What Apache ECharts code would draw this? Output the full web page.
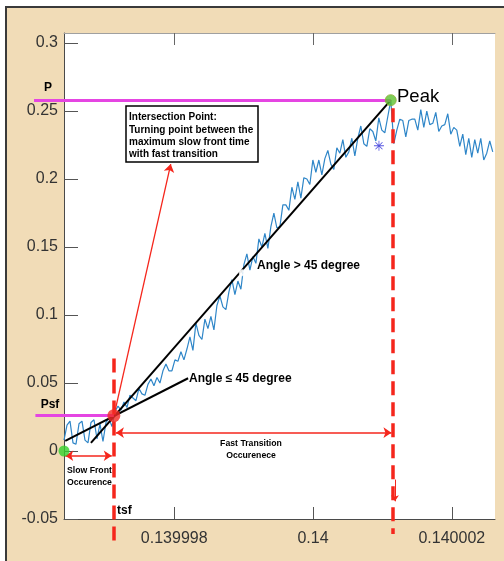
<!DOCTYPE html>
<html>
<head>
<meta charset="utf-8">
<script src="https://cdn.jsdelivr.net/npm/echarts@6/dist/echarts.min.js"></script>
<style>
  html, body { margin: 0; padding: 0; background: #fff; }
  #chart { width: 504px; height: 561px; }
</style>
</head>
<body>
<div id="chart"></div>
<script>
// Time axis is expressed in microseconds relative to t = 0.14 s.
const xTickValues = [-2, 0, 2];
const xTickLabels = ['0.139998', '0.14', '0.140002'];
const yTickValues = [-0.05, 0, 0.05, 0.1, 0.15, 0.2, 0.25, 0.3];
const yTickLabels = ['-0.05', '0', '0.05', '0.1', '0.15', '0.2', '0.25', '0.3'];

// Recorded front: sampled signal (start time and sample period in µs)
const sampleStartUs = -3.588;
const samplePeriodUs = 0.0432;
const signal = [
  // slow front
  0.008, 0.019, 0.022, 0.006, 0.005, 0.020, 0.022, 0.008, 0.006, 0.021,
  0.023, 0.009, 0.020, 0.007, 0.021, 0.024, 0.018,
  // fast transition
  0.029, 0.033, 0.030, 0.036, 0.032, 0.041, 0.039, 0.037, 0.046, 0.042,
  0.041, 0.049, 0.053, 0.048, 0.054, 0.050, 0.059, 0.064, 0.059, 0.059,
  0.067, 0.066, 0.073, 0.067, 0.075, 0.084, 0.074, 0.094, 0.085, 0.082,
  0.097, 0.090, 0.099, 0.089, 0.107, 0.114, 0.106, 0.104, 0.117, 0.126,
  0.115, 0.125, 0.119, 0.137, 0.145, 0.133, 0.143, 0.138, 0.156, 0.150,
  0.160, 0.149, 0.165, 0.175, 0.164, 0.165, 0.181, 0.181, 0.177, 0.194,
  0.185, 0.198, 0.186, 0.201, 0.200, 0.196, 0.214, 0.205, 0.214, 0.203,
  0.215, 0.221, 0.211, 0.207, 0.223, 0.219, 0.229, 0.216, 0.220, 0.230,
  0.217, 0.230, 0.239, 0.226, 0.224, 0.237, 0.235, 0.228, 0.245, 0.236,
  0.234, 0.246,
  // peak and tail
  0.258,
  0.226, 0.236, 0.244, 0.243, 0.231, 0.243, 0.244, 0.244, 0.236, 0.251,
  0.238, 0.250, 0.240, 0.241, 0.249, 0.235, 0.239, 0.240, 0.248, 0.233,
  0.238, 0.236, 0.224, 0.233, 0.218, 0.230, 0.216, 0.229, 0.219, 0.230,
  0.214, 0.219, 0.228, 0.220
];

// Characteristic points [time µs, value]
const startPoint = [-3.588, 0];
const tsf = -2.87;
const Psf = 0.026;
const tPeak = 1.12;
const P = 0.258;
const peakGuideTime = 1.15;
const fittedMarker = [0.95, 0.2245];
const midMarker = [-1.02, 0.131];

// Fitted slopes
const steepLine = [[-3.2, 0.006], [tPeak, P]];
const shallowLine = [[-3.57, 0.0075], [-1.80, 0.0535]];

// Level guides (extend left past the axis)
const pLevel = [[-4.02, P], [tPeak, P]];
const psfLevel = [[-4.0, Psf], [tsf, Psf]];

// Vertical time guides (extend below the axis)
const tsfGuide = [[tsf, 0.068], [tsf, -0.067]];
const peakGuide = [[peakGuideTime, 0.252], [peakGuideTime, -0.061]];

// Interval arrows
const slowFrontSpan = [[-3.57, -0.0035], [-2.90, -0.0035]];
const fastTransitionSpan = [[-2.84, 0.0135], [1.13, 0.0135]];
const calloutArrow = [[-2.85, 0.030], [-2.05, 0.211]];
const peakDrop = [[1.18, -0.021], [1.18, -0.037]];

const wave = signal.map((v, i) => [sampleStartUs + i * samplePeriodUs, v]);

const chart = echarts.init(document.getElementById('chart'), null, { renderer: 'canvas' });

const FONT = '"Liberation Sans", Arial, Helvetica, sans-serif';
const RED = '#f5261c';
const MAGENTA = '#e545e2';

// straight segment drawn in data coordinates, allowed to run outside the plot box
function segment(coords, color, width, type, z, symbols, size) {
  return {
    type: 'lines', coordinateSystem: 'cartesian2d', xAxisIndex: 0, yAxisIndex: 0,
    clip: false, silent: true, z,
    symbol: symbols || ['none', 'none'], symbolSize: size || 8,
    lineStyle: { color, width, type, opacity: 1, curveness: 0, cap: 'butt' },
    data: [{ coords }]
  };
}

const text = (t, x, y, size, weight, align) => ({
  type: 'text', z: 50,
  style: {
    text: t, x, y, fill: '#000',
    font: `${weight} ${size}px ${FONT}`,
    align, verticalAlign: 'middle'
  }
});

const asterisk = 'path://M4.6,0H5.4V10H4.6Z M0,4.6H10V5.4H0Z M1.2,1.8L1.8,1.2L8.8,8.2L8.2,8.8Z M8.2,1.2L8.8,1.8L1.8,8.8L1.2,8.2Z';

chart.setOption({
  animation: false,
  backgroundColor: '#f1dcb7',
  grid: {
    left: 64, right: 9, top: 33, bottom: 42,
    show: true, backgroundColor: '#ffffff', borderWidth: 0
  },
  xAxis: [
    {
      type: 'value', position: 'bottom', min: -3.588, max: 2.622,
      axisLine: { show: true, onZero: false, lineStyle: { color: '#4a4a4a', width: 1 } },
      axisTick: { show: true, inside: true, length: 12, customValues: xTickValues,
        lineStyle: { color: '#555', width: 1 } },
      axisLabel: {
        customValues: xTickValues, margin: 12, fontSize: 16, color: '#333', fontFamily: FONT,
        formatter: (v) => xTickLabels[xTickValues.findIndex(t => Math.abs(t - v) < 1e-9)] || ''
      },
      splitLine: { show: false }
    },
    {
      type: 'value', position: 'top', min: -3.588, max: 2.622,
      axisLine: { show: true, onZero: false, lineStyle: { color: '#a0a0a0', width: 1 } },
      axisTick: { show: true, inside: true, length: 12, customValues: xTickValues,
        lineStyle: { color: '#666', width: 1 } },
      axisLabel: { show: false },
      splitLine: { show: false }
    }
  ],
  yAxis: {
    type: 'value', min: -0.05, max: 0.3074,
    axisLine: { show: true, onZero: false, lineStyle: { color: '#4a4a4a', width: 1 } },
    axisTick: { show: true, inside: true, length: 14, customValues: yTickValues,
      lineStyle: { color: '#555', width: 1 } },
    axisLabel: {
      customValues: yTickValues, margin: 6, fontSize: 16, color: '#333', fontFamily: FONT,
      formatter: (v) => yTickLabels[yTickValues.findIndex(t => Math.abs(t - v) < 1e-9)] || ''
    },
    splitLine: { show: false }
  },
  series: [
    {
      type: 'line', data: wave, showSymbol: false, symbol: 'none', z: 2,
      lineStyle: { color: '#2f86c8', width: 1.2 }, silent: true
    },
    segment(steepLine, '#000', 2, 'solid', 3),
    segment(shallowLine, '#000', 2, 'solid', 3),
    segment(pLevel, MAGENTA, 3, 'solid', 4),
    segment(psfLevel, MAGENTA, 3, 'solid', 4),
    segment(tsfGuide, RED, 3.5, [14, 7], 5),
    segment(peakGuide, RED, 3.5, [14, 7], 5),
    segment(slowFrontSpan, RED, 1.5, 'solid', 6, ['arrow', 'arrow'], 8),
    segment(fastTransitionSpan, RED, 1.5, 'solid', 6, ['arrow', 'arrow'], 8),
    segment(calloutArrow, RED, 1.3, 'solid', 6, ['none', 'arrow'], 8),
    segment(peakDrop, RED, 1, 'solid', 6, ['none', 'arrow'], 6),
    {
      type: 'scatter', z: 8, clip: false, silent: true,
      data: [startPoint], symbol: 'circle', symbolSize: 11,
      itemStyle: { color: '#33d12b' }
    },
    {
      type: 'scatter', z: 8, clip: false, silent: true,
      data: [[tPeak, P]], symbol: 'circle', symbolSize: 11,
      itemStyle: { color: '#5cc22e', borderColor: '#8fae3a', borderWidth: 1 }
    },
    {
      type: 'scatter', z: 8, clip: false, silent: true,
      data: [[tsf, Psf]], symbol: 'circle', symbolSize: 13,
      itemStyle: { color: '#f22a25' }
    },
    {
      type: 'scatter', z: 8, silent: true,
      data: [fittedMarker], symbol: asterisk, symbolSize: 10,
      itemStyle: { color: '#2b2bd8' }
    },
    {
      type: 'scatter', z: 8, silent: true,
      data: [midMarker], symbol: 'emptyCircle', symbolSize: 5,
      itemStyle: { color: '#fff', borderColor: '#e66', borderWidth: 1, opacity: 0.8 }
    }
  ],
  graphic: [
    // figure frame
    { type: 'rect', z: 40, shape: { x: 0, y: 0, width: 504, height: 6 }, style: { fill: '#fff' } },
    { type: 'rect', z: 40, shape: { x: 0, y: 0, width: 5, height: 561 }, style: { fill: '#fff' } },
    { type: 'line', z: 41, shape: { x1: 5, y1: 7, x2: 504, y2: 7 }, style: { stroke: '#3a3a3a', lineWidth: 2 } },
    { type: 'line', z: 41, shape: { x1: 6, y1: 6, x2: 6, y2: 561 }, style: { stroke: '#3a3a3a', lineWidth: 2 } },

    text('P', 48, 88, 12, 'bold', 'center'),
    text('Psf', 50, 405, 12, 'bold', 'center'),
    text('Peak', 397, 97, 18.5, 'normal', 'left'),
    text('Angle > 45 degree', 257, 266, 12, 'bold', 'left'),
    text('Angle \u2264 45 degree', 189, 379, 12, 'bold', 'left'),
    text('Slow Front', 67, 471, 8.7, 'bold', 'left'),
    text('Occurence', 67, 483, 8.7, 'bold', 'left'),
    text('Fast Transition', 251, 444, 8.7, 'bold', 'center'),
    text('Occurenece', 251, 456, 8.7, 'bold', 'center'),
    text('tsf', 117, 511, 12, 'bold', 'left'),

    { type: 'rect', z: 45, shape: { x: 126, y: 106, width: 132, height: 56 },
      style: { fill: '#fff', stroke: '#000', lineWidth: 1.5 } },
    text('Intersection Point:', 129, 117.5, 10, 'bold', 'left'),
    text('Turning point between the', 129, 129.8, 10, 'bold', 'left'),
    text('maximum slow front time', 129, 142, 10, 'bold', 'left'),
    text('with fast transition', 129, 154.3, 10, 'bold', 'left')
  ]
});
</script>
</body>
</html>
